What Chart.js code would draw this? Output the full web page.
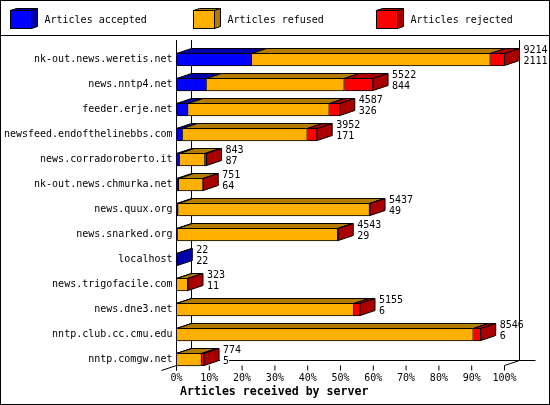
<!DOCTYPE html>
<html>
<head>
<meta charset="utf-8">
<script src="https://cdn.jsdelivr.net/npm/chart.js@4"></script>
<style>
html, body { margin: 0; padding: 0; background: #fff; }
canvas { display: block; }
</style>
</head>
<body>
<canvas id="chart" width="550" height="405"></canvas>
<script>
const servers = ['nk-out.news.weretis.net', 'news.nntp4.net', 'feeder.erje.net', 'newsfeed.endofthelinebbs.com',
    'news.corradoroberto.it', 'nk-out.news.chmurka.net', 'news.quux.org', 'news.snarked.org', 'localhost',
    'news.trigofacile.com', 'news.dne3.net', 'nntp.club.cc.cmu.edu', 'nntp.comgw.net'];
const accepted = [2111, 844, 326, 171, 87, 64, 49, 29, 22, 11, 6, 6, 5];
const refused = [6705, 3870, 3967, 3504, 713, 685, 5373, 4502, 0, 309, 4979, 8332, 699];
const rejected = [398, 808, 294, 277, 43, 2, 15, 12, 0, 3, 170, 208, 70];
const totals = [9214, 5522, 4587, 3952, 843, 751, 5437, 4543, 22, 323, 5155, 8546, 774];
const axisMax = 9214;
const axisTitle = 'Articles received by server';

const colors = ['#0000ff', '#ffb000', '#ff0000'];
const darkColors = ['#0000aa', '#b37b00', '#aa0000'];
const depthX = 15;
const depthY = 5;
const monoFont = '10px "DejaVu Sans Mono"';

function line(ctx, x1, y1, x2, y2) {
    ctx.beginPath();
    ctx.moveTo(x1, y1);
    ctx.lineTo(x2, y2);
    ctx.stroke();
}

function poly(ctx, points, fill) {
    ctx.beginPath();
    points.forEach((p, i) => i ? ctx.lineTo(p[0], p[1]) : ctx.moveTo(p[0], p[1]));
    ctx.closePath();
    ctx.fillStyle = fill;
    ctx.fill();
    ctx.stroke();
}

const frame3d = {
    id: 'frame3d',
    beforeDraw(chart) {
        const { ctx, width, height } = chart;
        const x = chart.scales.x;
        const axisY = 365.5;
        ctx.save();
        ctx.fillStyle = '#fff';
        ctx.fillRect(0, 0, width, height);
        ctx.strokeStyle = '#000';
        ctx.lineWidth = 1;
        ctx.strokeRect(0.5, 0.5, width - 1, height - 1);
        line(ctx, 0, 35.5, width, 35.5);

        // walls of the box, behind the bars
        line(ctx, x.left, 40, x.left, axisY + 5);
        line(ctx, x.left + depthX, 40, x.left + depthX, axisY - depthY);
        line(ctx, x.right + depthX, 40, x.right + depthX, axisY - depthY);
        line(ctx, x.left + depthX, axisY - depthY, x.right + depthX + 16, axisY - depthY);
        line(ctx, x.left - depthX, axisY + 5, x.left, axisY);
        line(ctx, x.right, axisY, x.right + depthX, axisY - depthY);
        x.ticks.forEach((t, i) => {
            const px = x.getPixelForTick(i);
            line(ctx, px, axisY, px, axisY + 5);
        });

        // legend
        ctx.font = monoFont;
        ctx.textBaseline = 'middle';
        chart.data.datasets.forEach((ds, i) => {
            const left = 10.5 + i * 183;
            const right = left + 21;
            poly(ctx, [[left, 10.5], [left + 6, 8.5], [right + 6, 8.5], [right, 10.5]], darkColors[i]);
            poly(ctx, [[right, 10.5], [right + 6, 8.5], [right + 6, 26.5], [right, 28.5]], darkColors[i]);
            ctx.fillStyle = colors[i];
            ctx.fillRect(left, 10.5, 21, 18);
            ctx.strokeRect(left, 10.5, 21, 18);
            ctx.fillStyle = '#000';
            ctx.fillText(ds.label, 44.5 + i * 183, 20);
        });

        ctx.font = 'bold 11.6px "DejaVu Sans Mono"';
        ctx.fillStyle = '#000';
        ctx.fillText(axisTitle, 180, 392);
        ctx.restore();
    },
    afterDatasetsDraw(chart) {
        const { ctx } = chart;
        const x = chart.scales.x;
        ctx.save();
        ctx.strokeStyle = '#000';
        ctx.lineWidth = 1;
        servers.forEach((name, row) => {
            let lastBar = null;
            let lastSet = 0;
            chart.data.datasets.forEach((ds, d) => {
                const bar = chart.getDatasetMeta(d).data[row];
                if (ds.data[row] <= 0) return;
                const top = bar.y - bar.height / 2 + 0.5;
                poly(ctx, [[bar.base, top], [bar.base + depthX, top - depthY],
                    [bar.x + depthX, top - depthY], [bar.x, top]], darkColors[d]);
                lastBar = bar;
                lastSet = d;
            });
            if (!lastBar) return;
            const top = lastBar.y - lastBar.height / 2 + 0.5;
            const bottom = lastBar.y + lastBar.height / 2 - 0.5;
            poly(ctx, [[lastBar.x, top], [lastBar.x + depthX, top - depthY],
                [lastBar.x + depthX, bottom - depthY], [lastBar.x, bottom]], darkColors[lastSet]);

            // total and accepted count next to the end of the bar
            const labelX = x.getPixelForValue(totals[row]) + depthX + 4;
            const acceptedText = String(accepted[row]);
            ctx.font = monoFont;
            ctx.textBaseline = 'middle';
            // the lower label sits on a white patch, it hides the floor line on the last row
            ctx.fillStyle = '#fff';
            ctx.fillRect(labelX - 3, lastBar.y - 3.5, ctx.measureText(acceptedText).width + 3, 10);
            ctx.fillStyle = '#000';
            ctx.fillText(String(totals[row]), labelX, lastBar.y - 9.5);
            ctx.fillText(acceptedText, labelX, lastBar.y + 1.5);
        });
        ctx.restore();
    }
};

new Chart(document.getElementById('chart').getContext('2d'), {
    type: 'bar',
    data: {
        labels: servers,
        datasets: [
            { label: 'Articles accepted', data: accepted, backgroundColor: colors[0] },
            { label: 'Articles refused', data: refused, backgroundColor: colors[1] },
            { label: 'Articles rejected', data: rejected, backgroundColor: colors[2] }
        ]
    },
    options: {
        indexAxis: 'y',
        responsive: false,
        animation: false,
        layout: { padding: { top: 47, right: 45.5 } },
        datasets: { bar: { barThickness: 13, borderColor: '#000', borderWidth: 1 } },
        plugins: { legend: { display: false }, tooltip: { enabled: false } },
        scales: {
            x: {
                stacked: true,
                min: 0,
                max: axisMax,
                afterFit: (scale) => { scale.height = 33; },
                grid: { display: false, drawTicks: false },
                border: { display: false },
                ticks: {
                    stepSize: axisMax / 10,
                    autoSkip: false,
                    maxRotation: 0,
                    padding: 0,
                    color: '#000',
                    font: { family: 'DejaVu Sans Mono', size: 10 },
                    callback: (value) => Math.round(value / axisMax * 100) + '%'
                }
            },
            y: {
                stacked: true,
                afterFit: (scale) => { scale.width = 176.5; },
                grid: { display: false, drawTicks: false },
                border: { display: false },
                ticks: {
                    autoSkip: false,
                    padding: 4,
                    color: '#000',
                    font: { family: 'DejaVu Sans Mono', size: 10 }
                }
            }
        }
    },
    plugins: [frame3d]
});
</script>
</body>
</html>
